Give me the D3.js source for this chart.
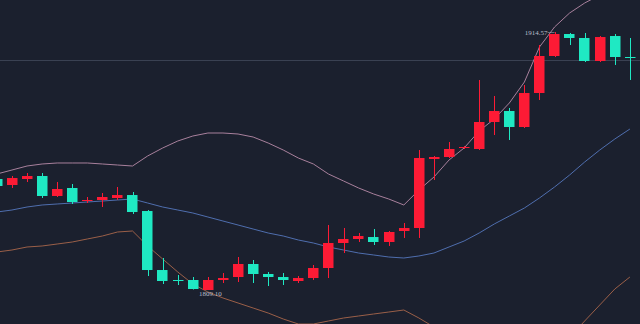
<!DOCTYPE html>
<html>
<head>
<meta charset="utf-8">
<script src="https://cdn.jsdelivr.net/npm/d3@7"></script>
<style>
  html, body { margin: 0; padding: 0; background: #1b202e; }
  svg { display: block; }
</style>
</head>
<body>
<div id="chart"></div>
<script>
// candle data, one entry per bar (prices)
var opens  = [1854.47, 1852.02, 1854.47, 1855.70, 1847.53, 1850.80, 1845.48, 1845.89, 1846.71, 1847.93,
              1841.39, 1817.27, 1813.19, 1813.19, 1809.10, 1813.19, 1814.41, 1819.73, 1815.64, 1814.41,
              1812.78, 1814.00, 1818.09, 1828.31, 1829.95, 1830.76, 1828.72, 1833.22, 1834.44, 1862.65,
              1863.47, 1867.15, 1866.74, 1877.78, 1882.27, 1875.73, 1889.63, 1904.76, 1913.75, 1912.12,
              1902.71, 1912.93, 1904.35];
var highs  = [1855.29, 1855.70, 1856.92, 1856.92, 1853.25, 1852.43, 1847.12, 1848.75, 1851.20, 1849.16,
              1841.80, 1822.18, 1815.23, 1814.41, 1814.41, 1816.05, 1822.59, 1821.36, 1816.46, 1816.05,
              1814.82, 1819.32, 1835.67, 1834.44, 1832.40, 1834.03, 1833.22, 1836.49, 1866.33, 1863.88,
              1869.60, 1867.97, 1894.95, 1888.41, 1883.50, 1892.90, 1909.25, 1914.57, 1914.16, 1914.16,
              1912.93, 1913.75, 1912.12];
var lows   = [1850.80, 1850.80, 1853.25, 1846.71, 1847.12, 1844.26, 1844.66, 1843.03, 1845.89, 1840.17,
              1814.82, 1811.55, 1811.14, 1809.30, 1809.10, 1811.96, 1812.37, 1811.96, 1810.73, 1811.14,
              1811.96, 1813.19, 1814.00, 1824.22, 1828.72, 1827.49, 1827.09, 1830.36, 1830.36, 1854.07,
              1863.06, 1866.74, 1866.33, 1872.46, 1870.42, 1875.32, 1886.77, 1904.35, 1909.25, 1902.30,
              1902.30, 1901.08, 1894.95];
var closes = [1851.61, 1854.88, 1855.70, 1847.53, 1850.39, 1845.07, 1845.89, 1847.12, 1847.93, 1840.98,
              1817.27, 1812.78, 1812.98, 1809.51, 1813.19, 1814.00, 1819.73, 1815.64, 1814.41, 1813.19,
              1814.00, 1818.09, 1828.31, 1829.95, 1831.17, 1828.72, 1832.81, 1834.44, 1863.06, 1863.47,
              1866.74, 1867.56, 1877.78, 1882.27, 1875.73, 1889.63, 1904.76, 1913.75, 1912.12, 1902.71,
              1912.52, 1904.35, 1903.94];

// bollinger bands
var bollUp  = [1856.52, 1858.15, 1859.79, 1860.61, 1861.02, 1861.02, 1861.02, 1860.61, 1860.20, 1859.79,
               1863.88, 1867.15, 1870.01, 1872.05, 1873.28, 1873.28, 1872.87, 1871.64, 1869.19, 1866.33,
               1863.06, 1860.61, 1856.52, 1853.66, 1850.80, 1848.34, 1846.30, 1843.85, 1849.98, 1855.29,
               1862.24, 1867.15, 1874.10, 1879.00, 1885.54, 1894.13, 1908.44, 1916.61, 1922.34, 1926.42,
               1929.69, 1932.56, 1935.83];
var bollMid = [1840.98, 1841.80, 1843.03, 1843.85, 1844.26, 1844.66, 1845.07, 1845.48, 1845.89, 1846.30,
               1844.66, 1843.03, 1841.80, 1840.58, 1838.94, 1837.30, 1835.67, 1834.03, 1832.40, 1831.17,
               1829.54, 1828.31, 1826.68, 1825.45, 1824.22, 1823.41, 1822.59, 1822.18, 1823.00, 1824.22,
               1826.68, 1829.13, 1832.40, 1836.08, 1839.35, 1842.62, 1846.71, 1851.20, 1856.11, 1861.42,
               1866.33, 1870.83, 1874.91];
var bollDn  = [1824.63, 1825.45, 1826.68, 1827.09, 1827.90, 1828.72, 1829.95, 1831.17, 1832.81, 1833.22,
               1827.09, 1821.77, 1816.46, 1811.55, 1808.28, 1805.83, 1803.79, 1801.74, 1799.69, 1797.24,
               1795.20, 1795.20, 1796.43, 1797.65, 1798.47, 1799.29, 1800.10, 1800.92, 1797.65, 1793.97,
               1791.11, 1791.11, 1790.70, 1793.15, 1793.15, 1790.29, 1784.98, 1785.79, 1789.88, 1796.43,
               1802.97, 1809.51, 1814.41];

var maxLabel = "1914.57";
var minLabel = "1809.10";
var lastLine = 1903.12;

var width = 640, height = 324;
var upColor = "#fd1b35", downColor = "#1fe9c3";

var svg = d3.select("#chart").append("svg")
  .attr("width", width).attr("height", height)
  .style("background", "#1b202e");

var idx = d3.range(opens.length);
var x = d3.scaleLinear().domain([0, opens.length - 1]).range([-3.1, 629.9]);
var y = d3.scaleLinear().domain([1809.10, 1914.57]).range([290, 32]);
var bodyW = 10.5;

// last price line
svg.append("line")
  .attr("x1", 0).attr("x2", width)
  .attr("y1", Math.round(y(lastLine)) + 0.5).attr("y2", Math.round(y(lastLine)) + 0.5)
  .attr("stroke", "#3a4152").attr("stroke-width", 1);

// bands
function bandLine(vals) {
  return d3.line().x(function (d, i) { return x(i); }).y(function (d) { return y(d); })(vals);
}
[[bollUp, "#a8809c"], [bollMid, "#4f6eae"], [bollDn, "#9a5f48"]].forEach(function (b) {
  svg.append("path").attr("d", bandLine(b[0]))
    .attr("fill", "none").attr("stroke", b[1]).attr("stroke-width", 1);
});

// candles
var g = svg.append("g");
var candles = g.selectAll("g.candle").data(idx).enter().append("g").attr("class", "candle");
candles.append("line")
  .attr("x1", function (i) { return Math.round(x(i)) + 0.5; })
  .attr("x2", function (i) { return Math.round(x(i)) + 0.5; })
  .attr("y1", function (i) { return y(highs[i]); })
  .attr("y2", function (i) { return y(lows[i]); })
  .attr("stroke", function (i) { return closes[i] >= opens[i] ? upColor : downColor; })
  .attr("stroke-width", 1);
candles.append("rect")
  .attr("x", function (i) { return Math.round(x(i) - bodyW / 2); })
  .attr("width", bodyW)
  .attr("y", function (i) { return y(Math.max(opens[i], closes[i])); })
  .attr("height", function (i) { return Math.max(1, Math.abs(y(opens[i]) - y(closes[i]))); })
  .attr("fill", function (i) { return closes[i] >= opens[i] ? upColor : downColor; });

// high / low marks
var hiI = d3.maxIndex(highs), loI = d3.minIndex(lows);
svg.append("line")
  .attr("x1", x(hiI) - 7).attr("x2", x(hiI))
  .attr("y1", y(highs[hiI]) + 0.5).attr("y2", y(highs[hiI]) + 0.5)
  .attr("stroke", "#9aa0ae").attr("stroke-width", 0.6);
svg.append("text")
  .attr("x", x(hiI) - 7).attr("y", y(highs[hiI]) + 3)
  .attr("text-anchor", "end")
  .attr("font-family", "Liberation Serif, serif").attr("font-size", "7px")
  .attr("fill", "#b9bfcc").text(maxLabel);
svg.append("text")
  .attr("x", x(loI) - 9).attr("y", y(lows[loI]) + 6)
  .attr("text-anchor", "start")
  .attr("font-family", "Liberation Serif, serif").attr("font-size", "7px")
  .attr("fill", "#b9bfcc").text(minLabel);
</script>
</body>
</html>
